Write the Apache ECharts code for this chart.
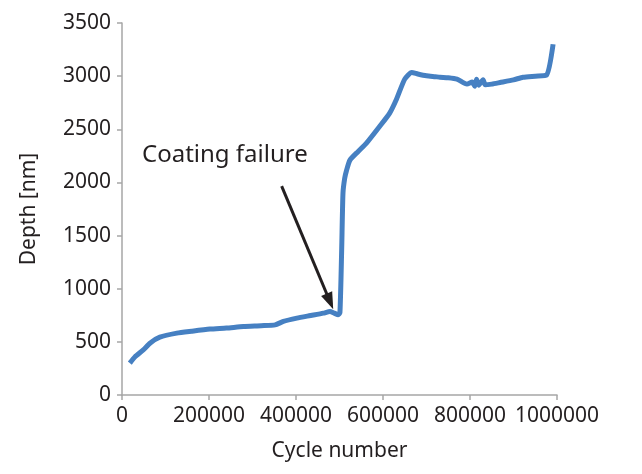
<!DOCTYPE html>
<html>
<head>
<meta charset="utf-8">
<script src="https://cdn.jsdelivr.net/npm/echarts@6/dist/echarts.min.js"></script>
<style>html,body{margin:0;padding:0;background:#fff}#c{width:642px;height:474px}</style>
</head>
<body>
<div id="c"></div>
<script>
const cycles = [18000, 30000, 49000, 65000, 87000, 126000, 160000, 202000, 240000, 279000, 320000, 352000, 371000, 402000, 430000, 463000, 478000, 488000, 497000, 501000, 505000, 508000, 512000, 516000, 524000, 543000, 562000, 593000, 615000, 631000, 650000, 666000, 680000, 700000, 720000, 731000, 750000, 770000, 793000, 805000, 811000, 815000, 820000, 830000, 835000, 850000, 869000, 900000, 922000, 950000, 976000, 991000];
const depth = [300, 360, 425, 490, 544, 582, 600, 620, 630, 644, 652, 660, 692, 723, 745, 770, 786, 770, 755, 774, 1368, 1900, 2040, 2110, 2210, 2292, 2370, 2531, 2650, 2783, 2972, 3035, 3020, 3003, 2995, 2990, 2985, 2972, 2925, 2945, 2905, 2970, 2915, 2965, 2918, 2925, 2940, 2965, 2990, 3000, 3010, 3300];
const xTicks = [0, 200000, 400000, 600000, 800000, 1000000];
const yTicks = [0, 500, 1000, 1500, 2000, 2500, 3000, 3500];
const annotationText = 'Coating failure';
const arrowFrom = [367000, 1965];
const arrowTo = [478000, 880];

const font = 'Noto Sans';
const ink = '#231f20';
const chart = echarts.init(document.getElementById('c'));
chart.setOption({
  animation: false,
  textStyle: { fontFamily: font },
  grid: { left: 122, right: 85, top: 23, bottom: 79 },
  xAxis: {
    type: 'value', min: xTicks[0], max: xTicks[xTicks.length - 1], interval: 200000,
    name: 'Cycle number', nameLocation: 'middle', nameGap: 46,
    nameTextStyle: { fontFamily: font, fontSize: 21, color: ink },
    axisLine: { show: true, lineStyle: { color: '#a6a6a6', width: 1.5 } },
    axisTick: { show: true, length: 5, lineStyle: { color: '#a6a6a6', width: 1.5 } },
    axisLabel: { fontFamily: font, fontSize: 21, color: ink, margin: 11, formatter: v => String(v) },
    splitLine: { show: false }
  },
  yAxis: {
    type: 'value', min: yTicks[0], max: yTicks[yTicks.length - 1], interval: 500,
    name: 'Depth [nm]', nameLocation: 'middle', nameGap: 82, nameRotate: 90,
    nameTextStyle: { fontFamily: font, fontSize: 21, color: ink },
    axisLine: { show: true, lineStyle: { color: '#a6a6a6', width: 1.5 } },
    axisTick: { show: true, length: 5, lineStyle: { color: '#a6a6a6', width: 1.5 } },
    axisLabel: { fontFamily: font, fontSize: 21, color: ink, margin: 11, formatter: v => String(v) },
    splitLine: { show: false }
  },
  graphic: [{
    type: 'text', left: 142, top: 143,
    style: { text: annotationText, fontFamily: font, fontSize: 24, fill: ink }
  }],
  series: [{
    type: 'line',
    data: cycles.map((c, i) => [c, depth[i]]),
    showSymbol: false,
    smooth: 0.2,
    lineStyle: { color: '#4680c2', width: 5 },
    markLine: {
      silent: true,
      symbol: ['none', 'triangle'],
      symbolSize: [12, 17],
      lineStyle: { color: ink, width: 3, type: 'solid' },
      label: { show: false },
      data: [[{ coord: arrowFrom }, { coord: arrowTo }]]
    }
  }]
});
</script>
</body>
</html>
